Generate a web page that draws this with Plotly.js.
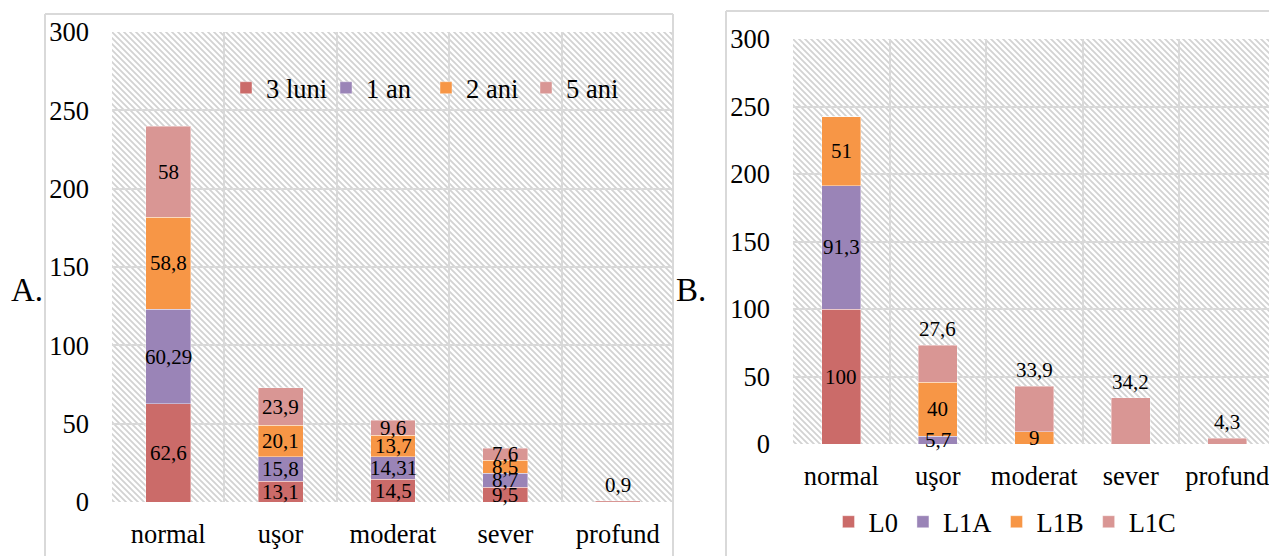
<!DOCTYPE html>
<html>
<head>
<meta charset="utf-8">
<script src="https://cdn.plot.ly/plotly-3.0.1.min.js"></script>
<style>
  html, body { margin: 0; padding: 0; background: #ffffff; }
  #chart { width: 1269px; height: 556px; }
</style>
</head>
<body>
<div id="chart"></div>
<script>
// Severity categories shared by both panels
const categories = ['normal', 'uşor', 'moderat', 'sever', 'profund'];

// Panel A: follow-up intervals
const seriesA = ['3 luni', '1 an', '2 ani', '5 ani'];
const luni3 = [62.6, 13.1, 14.5, 9.5, 0];
const an1   = [60.29, 15.8, 14.31, 8.7, 0];
const ani2  = [58.8, 20.1, 13.7, 8.5, 0];
const ani5  = [58, 23.9, 9.6, 7.6, 0.9];

// Panel B: groups
const seriesB = ['L0', 'L1A', 'L1B', 'L1C'];
const L0  = [100, 0, 0, 0, 0];
const L1A = [91.3, 5.7, 0, 0, 0];
const L1B = [51, 40, 9, 0, 0];
const L1C = [0, 27.6, 33.9, 34.2, 4.3];

const yTicks = [0, 50, 100, 150, 200, 250, 300];

const colors = ['#CB6B69', '#9A84B7', '#F79646', '#D99694'];
const FONT = '"Liberation Serif", "Times New Roman", serif';
const GRID = '#d9d9d9';

const W = 1269, H = 556;
// plot areas in pixels
const areaA = { l: 112, r: 674, t: 32, b: 502 };
const areaB = { l: 793, r: 1269, t: 39, b: 444 };
const catWidthB = 96.5;

function px2domX(a) { return [a.l / W, a.r / W]; }
function px2domY(a) { return [(H - a.b) / H, (H - a.t) / H]; }

function fmt(v) { return String(v).replace('.', ','); }

function hatch(w, h) {
  const svg =
    '<svg xmlns="http://www.w3.org/2000/svg" width="' + w + '" height="' + h + '">' +
    '<defs><pattern id="p" patternUnits="userSpaceOnUse" width="6" height="6">' +
    '<path d="M-1,-1 L7,7 M-1,5 L1,7 M5,-1 L7,1" stroke="#d2d2d2" stroke-width="1.8"/>' +
    '</pattern></defs>' +
    '<rect width="' + w + '" height="' + h + '" fill="#ffffff"/>' +
    '<rect width="' + w + '" height="' + h + '" fill="url(#p)"/></svg>';
  return 'data:image/svg+xml;base64,' + btoa(svg);
}

const traces = [];
const annotations = [];

function addPanel(names, data, xa, ya, legendId, topOutside) {
  const cum = categories.map(() => 0);
  data.forEach((vals, i) => {
    traces.push({
      type: 'bar',
      name: names[i],
      x: categories,
      y: vals,
      xaxis: xa,
      yaxis: ya,
      legend: legendId,
      marker: { color: colors[i], line: { color: 'rgba(255,255,255,0.5)', width: 0.8 } },
      textposition: 'none',
      hoverinfo: 'skip'
    });
    vals.forEach((v, j) => {
      if (v > 0) {
        const above = (topOutside && i === data.length - 1) || v < 3;
        annotations.push({
          xref: xa, yref: ya,
          x: categories[j],
          y: above ? cum[j] + v : cum[j] + v / 2,
          yanchor: above ? 'bottom' : 'middle',
          yshift: above ? 2 : 0,
          text: fmt(v),
          showarrow: false,
          font: { family: FONT, size: 21, color: '#000' }
        });
      }
      cum[j] += v;
    });
  });
}

addPanel(seriesA, [luni3, an1, ani2, ani5], 'x', 'y', 'legend', false);
addPanel(seriesB, [L0, L1A, L1B, L1C], 'x2', 'y2', 'legend2', true);

// Panel letters
annotations.push({ xref: 'paper', yref: 'paper', x: 27 / W, y: (H - 290) / H,
  xanchor: 'center', yanchor: 'middle',
  text: 'A.', showarrow: false, font: { family: FONT, size: 33, color: '#000' } });
annotations.push({ xref: 'paper', yref: 'paper', x: 691 / W, y: (H - 290) / H,
  xanchor: 'center', yanchor: 'middle',
  text: 'B.', showarrow: false, font: { family: FONT, size: 33, color: '#000' } });

const TICK = 26.5;
const xaxisBase = {
  type: 'category',
  tickson: 'boundaries',
  showgrid: true, gridcolor: GRID, gridwidth: 2,
  ticks: '', showline: false, zeroline: false,
  tickfont: { family: FONT, size: TICK, color: '#000' },
  ticklabelstandoff: 13,
  fixedrange: true
};
const yaxisBase = {
  range: [0, 300], tickvals: yTicks, ticktext: yTicks.map(String),
  showgrid: true, gridcolor: GRID, gridwidth: 2,
  ticks: '', showline: false, zeroline: false,
  tickfont: { family: FONT, size: TICK, color: '#000' },
  ticklabelstandoff: 22,
  fixedrange: true
};

const frame = { color: GRID, width: 2 };
const shapes = [
  // panel A frame
  { type: 'line', xref: 'paper', yref: 'paper', x0: 45 / W, x1: 45 / W, y0: 0, y1: (H - 14) / H, line: frame },
  { type: 'line', xref: 'paper', yref: 'paper', x0: 45 / W, x1: 673 / W, y0: (H - 14) / H, y1: (H - 14) / H, line: frame },
  { type: 'line', xref: 'paper', yref: 'paper', x0: 673 / W, x1: 673 / W, y0: 0, y1: (H - 14) / H, line: frame },
  // panel B frame
  { type: 'line', xref: 'paper', yref: 'paper', x0: 726 / W, x1: 726 / W, y0: 0, y1: (H - 11) / H, line: frame },
  { type: 'line', xref: 'paper', yref: 'paper', x0: 726 / W, x1: 1, y0: (H - 11) / H, y1: (H - 11) / H, line: frame }
];

const images = [
  { source: hatch(areaA.r - areaA.l, areaA.b - areaA.t), xref: 'x domain', yref: 'y domain',
    x: 0, y: 1, sizex: 1, sizey: 1, xanchor: 'left', yanchor: 'top', sizing: 'stretch', layer: 'below' },
  { source: hatch(areaB.r - areaB.l, areaB.b - areaB.t), xref: 'x2 domain', yref: 'y2 domain',
    x: 0, y: 1, sizex: 1, sizey: 1, xanchor: 'left', yanchor: 'top', sizing: 'stretch', layer: 'below' }
];

const layout = {
  width: W, height: H,
  margin: { l: 0, r: 0, t: 0, b: 0 },
  paper_bgcolor: '#ffffff',
  plot_bgcolor: 'rgba(0,0,0,0)',
  barmode: 'stack',
  bargap: 0.6,
  hovermode: false,
  font: { family: FONT, color: '#000' },
  xaxis: Object.assign({}, xaxisBase, { domain: px2domX(areaA), anchor: 'y', range: [-0.5, 4.5] }),
  yaxis: Object.assign({}, yaxisBase, { domain: px2domY(areaA), anchor: 'x' }),
  xaxis2: Object.assign({}, xaxisBase, { domain: px2domX(areaB), anchor: 'y2',
    range: [-0.5, -0.5 + (areaB.r - areaB.l) / catWidthB] }),
  yaxis2: Object.assign({}, yaxisBase, { domain: px2domY(areaB), anchor: 'x2' }),
  legend: {
    orientation: 'h', traceorder: 'normal',
    x: 226 / W, xanchor: 'left', y: (H - 88) / H, yanchor: 'middle',
    bgcolor: 'rgba(0,0,0,0)', font: { family: FONT, size: TICK, color: '#000' },
    itemwidth: 30, entrywidth: 55, entrywidthmode: 'pixels'
  },
  legend2: {
    orientation: 'h', traceorder: 'normal',
    x: 1005 / W, xanchor: 'center', y: (H - 522) / H, yanchor: 'middle',
    bgcolor: 'rgba(0,0,0,0)', font: { family: FONT, size: TICK, color: '#000' },
    itemwidth: 30
  },
  annotations: annotations,
  shapes: shapes,
  images: images
};

Plotly.newPlot('chart', traces, layout, { staticPlot: true, displayModeBar: false });
</script>
</body>
</html>
